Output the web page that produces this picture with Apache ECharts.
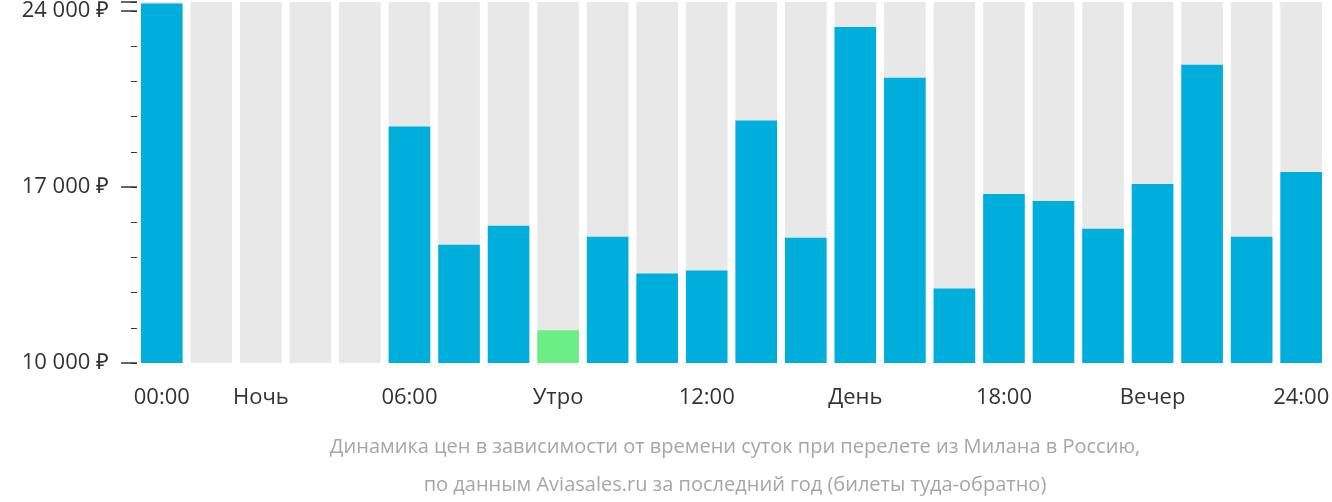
<!DOCTYPE html>
<html><head><meta charset="utf-8">
<script src="https://cdn.jsdelivr.net/npm/echarts@6/dist/echarts.min.js"></script>
<style>html,body{margin:0;padding:0;background:#fff}#c{width:1332px;height:502px}</style>
</head><body><div id="c"></div>
<script>
// часы суток и подписи оси
const hours = ['00:00','','Ночь','','','06:00','','','Утро','','','12:00','','','День','','','18:00','','','Вечер','','','24:00'];
const prices = [24300,null,null,null,null,19410,14705,15457,11305,15022,13559,13677,19648,14982,23365,21348,12966,16722,16445,15338,17117,21862,15022,17592];
const cheapestIndex = 8;
const shownTicks = [10000,17000,24000];

const chart = echarts.init(document.getElementById('c'));
const yBase = {type:'value',min:10000,max:24353,splitLine:{show:false},axisLine:{show:false}};
chart.setOption({
  animation:false,
  grid:{left:137,right:-5,top:0,bottom:139},
  xAxis:{type:'category',data:hours,
    axisLine:{show:false},axisTick:{show:false},
    axisLabel:{interval:0,fontFamily:'Open Sans',fontSize:22,color:'#333',margin:24}},
  yAxis:[
    Object.assign({},yBase,{interval:1400,
      axisTick:{show:true,length:6,lineStyle:{color:'#333'}},axisLabel:{show:false}}),
    Object.assign({},yBase,{position:'left',interval:7000,
      axisTick:{show:true,length:16,lineStyle:{color:'#333',width:1.5}},
      axisLabel:{fontFamily:'Open Sans',fontSize:22,color:'#333',margin:28,
        formatter:v=>shownTicks.includes(v)?(v/1000)+' 000 ₽':''}})
  ],
  series:[{type:'bar',barCategoryGap:'16%',
    showBackground:true,backgroundStyle:{color:'#e8e8e8'},
    data:prices.map((v,i)=>({value:v,itemStyle:{color:i===cheapestIndex?'#6bee86':'#00aedb'}}))}],
  graphic:[{type:'text',x:735,y:428,style:{
    text:'Динамика цен в зависимости от времени суток при перелете из Милана в Россию,\nпо данным Aviasales.ru за последний год (билеты туда-обратно)',
    fontFamily:'Open Sans',fontSize:20,fill:'#a6a6a6',align:'center',lineHeight:38}}]
});
</script></body></html>
